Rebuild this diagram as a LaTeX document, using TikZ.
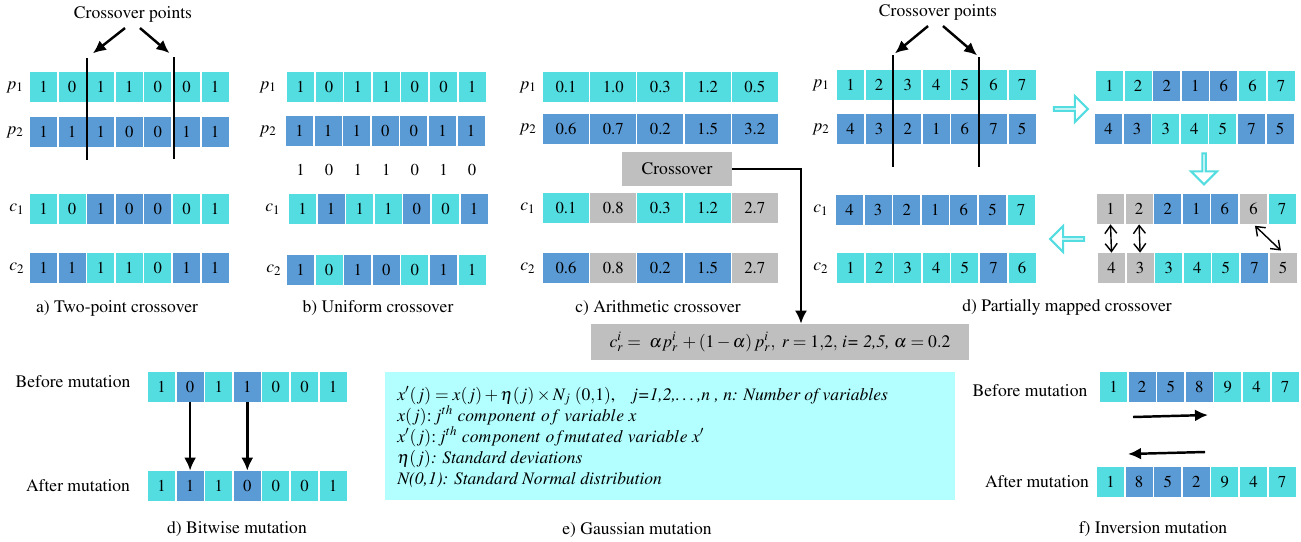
\documentclass[tikz,border=0pt]{standalone}
\usepackage[T1]{fontenc}
\usepackage{mathptmx}
\usetikzlibrary{arrows.meta,shapes.arrows}
\definecolor{cy}{RGB}{83,221,224}
\definecolor{bl}{RGB}{91,155,213}
\definecolor{gr}{RGB}{191,191,191}
\definecolor{gs}{RGB}{179,255,255}

\begin{document}
\begin{tikzpicture}[x=0.02cm, y=-0.02cm, font=\fontsize{10}{12}\selectfont,
	cell/.style={minimum width=0.54cm, minimum height=0.6cm, inner sep=0pt, font=\fontsize{9.5}{11}\selectfont},
	wcell/.style={cell, minimum width=0.92cm},
	graybox/.style={fill=gr, inner sep=0pt},
	cut/.style={line width=1.6pt},
	arr/.style={-{Latex[length=2.6mm,width=2.4mm]}, line width=1.4pt},
	swap/.style={{Straight Barb[length=1.6mm,width=2.4mm]}-{Straight Barb[length=1.6mm,width=2.4mm]}, line width=0.8pt},
	hollow/.style={single arrow, draw=cy, line width=1.2pt, fill=white, inner sep=0pt, minimum height=0.68cm, minimum width=0.52cm, single arrow head extend=0.14cm}]
	\useasboundingbox (0,0) rectangle (1301,541);

	% a) two-point crossover
	\foreach \v/\col [count=\i] in {1/cy,0/cy,1/cy,1/cy,0/cy,0/cy,1/cy} \node (ap1-\i) at ({43.5+28.6*(\i-1)},87) [cell, fill=\col] {\v};
	\foreach \v/\col [count=\i] in {1/bl,1/bl,1/bl,0/bl,0/bl,1/bl,1/bl} \node (ap2-\i) at ({43.5+28.6*(\i-1)},132) [cell, fill=\col] {\v};
	\foreach \v/\col [count=\i] in {1/cy,0/cy,1/bl,0/bl,0/bl,0/cy,1/cy} \node (ac1-\i) at ({43.5+28.6*(\i-1)},209) [cell, fill=\col] {\v};
	\foreach \v/\col [count=\i] in {1/bl,1/bl,1/cy,1/cy,0/cy,1/bl,1/bl} \node (ac2-\i) at ({43.5+28.6*(\i-1)},268) [cell, fill=\col] {\v};
	\node (lap1) at (15,87) {$p_1$};
	\node (lap2) at (15,132) {$p_2$};
	\node (lac1) at (17,209) {$c_1$};
	\node (lac2) at (17,268) {$c_2$};
	\coordinate (ta1) at (87,58);
	\coordinate (ba1) at (87,160);
	\coordinate (ta2) at (174,57);
	\coordinate (ba2) at (174,159);
	\draw [cut] (ta1) -- (ba1) (ta2) -- (ba2);
	\node (cpa) at (133,14) {Crossover points};
	\draw [arr, shorten >=0.15cm] ([xshift=-0.16cm]cpa.south) -- (ta1);
	\draw [arr, shorten >=0.12cm] ([xshift=0.14cm]cpa.south) -- (ta2);
	\node (capa) at (117,308) {a) Two-point crossover};

	% b) uniform crossover
	\foreach \v/\col [count=\i] in {1/cy,0/cy,1/cy,1/cy,0/cy,0/cy,1/cy} \node (bp1-\i) at ({300.5+28.6*(\i-1)},87) [cell, fill=\col] {\v};
	\foreach \v/\col [count=\i] in {1/bl,1/bl,1/bl,0/bl,0/bl,1/bl,1/bl} \node (bp2-\i) at ({299.5+28.6*(\i-1)},131) [cell, fill=\col] {\v};
	\foreach \v [count=\i] in {1,0,1,1,0,1,0} \node (bm-\i) at ({300.5+28.6*(\i-1)},170) [cell] {\v};
	\foreach \v/\col [count=\i] in {1/cy,1/bl,1/cy,1/cy,0/bl,0/cy,1/bl} \node (bc1-\i) at ({302.5+28.6*(\i-1)},209) [cell, fill=\col] {\v};
	\foreach \v/\col [count=\i] in {1/bl,0/cy,1/bl,0/bl,0/cy,1/bl,1/cy} \node (bc2-\i) at ({300.5+28.6*(\i-1)},270) [cell, fill=\col] {\v};
	\node (lbp1) at (268,87) {$p_1$};
	\node (lbp2) at (268,131) {$p_2$};
	\node (lbc1) at (273,209) {$c_1$};
	\node (lbc2) at (274,270) {$c_2$};
	\node (capb) at (378,308) {b) Uniform crossover};

	% c) arithmetic crossover
	\foreach \v/\col [count=\i] in {0.1/cy,1.0/cy,0.3/cy,1.2/cy,0.5/cy} \node (cp1-\i) at ({566+47.2*(\i-1)},87) [wcell, fill=\col] {\v};
	\foreach \v/\col [count=\i] in {0.6/bl,0.7/bl,0.2/bl,1.5/bl,3.2/bl} \node (cp2-\i) at ({566+47.2*(\i-1)},129) [wcell, fill=\col] {\v};
	\foreach \v/\col [count=\i] in {0.1/cy,0.8/gr,0.3/cy,1.2/cy,2.7/gr} \node (cc1-\i) at ({566+47.2*(\i-1)},208) [wcell, fill=\col] {\v};
	\foreach \v/\col [count=\i] in {0.6/bl,0.8/gr,0.2/bl,1.5/bl,2.7/gr} \node (cc2-\i) at ({566+47.2*(\i-1)},268) [wcell, fill=\col] {\v};
	\node (lcp1) at (528,87) {$p_1$};
	\node (lcp2) at (528,129) {$p_2$};
	\node (lcc1) at (528,208) {$c_1$};
	\node (lcc2) at (528,268) {$c_2$};
	\node (xo) at (677,169) [graybox, minimum width=2.2cm, minimum height=0.68cm] {Crossover};
	\node (capc) at (658,308) {c) Arithmetic crossover};
	\node (fm) at (780,342) [graybox, minimum width=7.56cm, minimum height=0.72cm] {$c_r^i =\ \alpha p_r^i\, + (1-\alpha)\, p_r^i,\ r = 1{,}2,$ \textit{i= 2,5,} $\alpha = 0.2$};
	\draw [arr, line width=1.2pt] (xo.east) -| ([xshift=0.42cm]fm.north);

	% d) partially mapped crossover
	\foreach \v [count=\i] in {1,2,3,4,5,6,7} \node (dp1-\i) at ({850.5+28.6*(\i-1)},85) [cell, fill=cy] {\v};
	\foreach \v [count=\i] in {4,3,2,1,6,7,5} \node (dp2-\i) at ({850.5+28.6*(\i-1)},129) [cell, fill=bl] {\v};
	\foreach \v/\col [count=\i] in {4/bl,3/bl,2/bl,1/bl,6/bl,5/bl,7/cy} \node (dc1-\i) at ({849.5+28.6*(\i-1)},210) [cell, fill=\col] {\v};
	\foreach \v/\col [count=\i] in {1/cy,2/cy,3/cy,4/cy,5/cy,7/bl,6/cy} \node (dc2-\i) at ({850.5+28.6*(\i-1)},268) [cell, fill=\col] {\v};
	\node (ldp1) at (821,85) {$p_1$};
	\node (ldp2) at (821,129) {$p_2$};
	\node (ldc1) at (821,210) {$c_1$};
	\node (ldc2) at (821,268) {$c_2$};
	\coordinate (td1) at (893,55);
	\coordinate (bd1) at (893,167);
	\coordinate (td2) at (979,57);
	\coordinate (bd2) at (979,167);
	\draw [cut] (td1) -- (bd1) (td2) -- (bd2);
	\node (cpd) at (938,12) {Crossover points};
	\draw [arr, shorten >=0.05cm] ([xshift=-0.2cm]cpd.south) -- (td1);
	\draw [arr, shorten >=0.05cm] ([xshift=0.1cm]cpd.south) -- (td2);
	\foreach \v/\col [count=\i] in {1/cy,2/cy,2/bl,1/bl,6/bl,6/cy,7/cy} \node (dr1-\i) at ({1109.5+28.6*(\i-1)},86) [cell, fill=\col] {\v};
	\foreach \v/\col [count=\i] in {4/bl,3/bl,3/cy,4/cy,5/cy,7/bl,5/bl} \node (dr2-\i) at ({1108.5+28.6*(\i-1)},129) [cell, fill=\col] {\v};
	\foreach \v/\col [count=\i] in {1/gr,2/gr,2/bl,1/bl,6/bl,6/gr,7/cy} \node (dr3-\i) at ({1110.5+28.6*(\i-1)},209) [cell, fill=\col] {\v};
	\foreach \v/\col [count=\i] in {4/gr,3/gr,3/cy,4/cy,5/cy,7/bl,5/gr} \node (dr4-\i) at ({1111.5+28.6*(\i-1)},268) [cell, fill=\col] {\v};
	\node (hr) at (1070,109) [hollow] {};
	\node (hd) at (1204,168) [hollow, shape border rotate=270, minimum height=0.62cm] {};
	\node (hl) at (1068,239) [hollow, shape border rotate=180] {};
	\draw [swap] (dr3-1.south) -- (dr4-1.north);
	\draw [swap] (dr3-2.south) -- (dr4-2.north);
	\draw [swap, shorten <=0.04cm, shorten >=0.06cm] (dr3-6.south) -- (dr4-7.north);
	\node (capd) at (1067,307) {d) Partially mapped crossover};

	% bitwise mutation
	\foreach \v/\col [count=\i] in {1/cy,0/bl,1/cy,1/bl,0/cy,0/cy,1/cy} \node (mb-\i) at ({161.5+28.6*(\i-1)},387) [cell, fill=\col] {\v};
	\foreach \v/\col [count=\i] in {1/cy,1/bl,1/cy,0/bl,0/cy,0/cy,1/cy} \node (ma-\i) at ({161.5+28.6*(\i-1)},486) [cell, fill=\col] {\v};
	\node (lmb) at (73,382) {Before mutation};
	\node (lma) at (78,486) {After mutation};
	\draw [arr] (mb-2.south) -- (ma-2.north);
	\draw [arr] (mb-4.south) -- (ma-4.north);
	\node (capm) at (237,529) {d) Bitwise mutation};

	% e) gaussian mutation
	\node (gbox) at (670,436) [fill=gs, minimum width=11.4cm, minimum height=2.56cm] {};
	\node (gtext) at (397,437) [anchor=west, align=left, inner sep=0pt] {$x'(j) = x(j) + \eta(j) \times N_j\;(0{,}1)$,\quad \textit{j=1,2,\dots,n , n: Number of variables}\\
	$x(j)\colon j^{th}\ component\ of\ variable\ x$\\
	$x'(j)\colon j^{th}\ component\ of mutated\ variable\ x'$\\
	$\eta(j)$\textit{: Standard deviations}\\
	\textit{N(0,1): Standard Normal distribution}};
	\node (cape) at (637,530) {e) Gaussian mutation};

	% f) inversion mutation
	\foreach \v/\col [count=\i] in {1/cy,2/bl,5/bl,8/bl,9/cy,4/cy,7/cy} \node (ib-\i) at ({1113.5+28.6*(\i-1)},387) [cell, fill=\col] {\v};
	\foreach \v/\col [count=\i] in {1/cy,8/bl,5/bl,2/bl,9/cy,4/cy,7/cy} \node (ia-\i) at ({1110.5+28.6*(\i-1)},482) [cell, fill=\col] {\v};
	\node (lib) at (1030,391) {Before mutation};
	\node (lia) at (1037,482) {After mutation};
	\coordinate (ir1) at (1133,417);
	\coordinate (ir2) at (1208,415);
	\coordinate (il1) at (1205,452);
	\coordinate (il2) at (1128,454);
	\draw [arr] (ir1) -- (ir2);
	\draw [arr] (il1) -- (il2);
	\node (capf) at (1153,529) {f) Inversion mutation};
\end{tikzpicture}
\end{document}
